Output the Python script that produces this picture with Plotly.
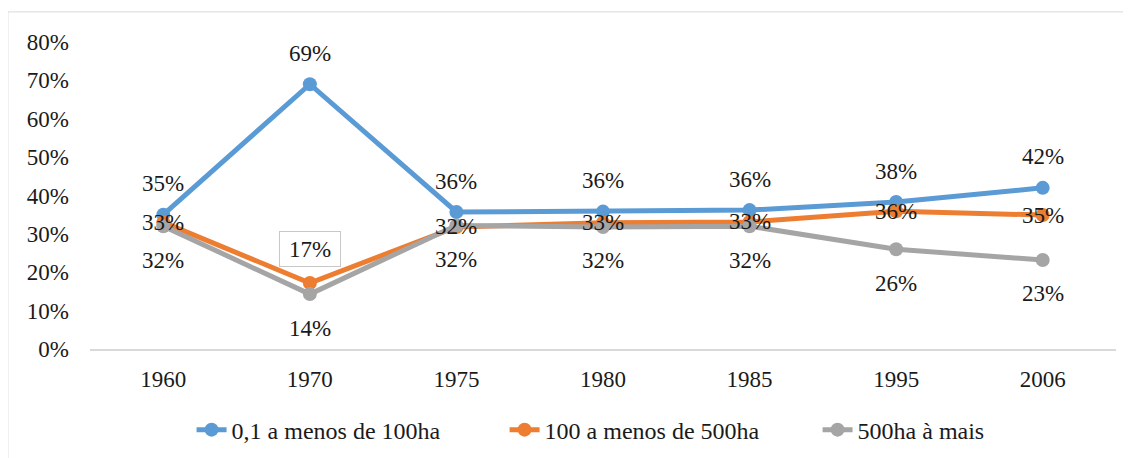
"""Distribuição dos estabelecimentos por grupo de área, 1960-2006."""

import plotly.graph_objects as go

years = ["1960", "1970", "1975", "1980", "1985", "1995", "2006"]
small = [0.35, 0.69, 0.357, 0.358, 0.362, 0.383, 0.42]
medium = [0.33, 0.172, 0.318, 0.329, 0.331, 0.359, 0.349]
large = [0.32, 0.143, 0.322, 0.318, 0.32, 0.26, 0.232]

small_labels = ["35%", "69%", "36%", "36%", "36%", "38%", "42%"]
medium_labels = ["33%", "17%", "32%", "33%", "33%", "36%", "35%"]
large_labels = ["32%", "14%", "32%", "32%", "32%", "26%", "23%"]

series = [
    ("0,1 a menos de 100ha", small, small_labels, "#5B9BD5", -31),
    ("100 a menos de 500ha", medium, medium_labels, "#ED7D31", 0),
    ("500ha à mais", large, large_labels, "#A5A5A5", 34),
]

FONT = "Liberation Serif"

fig = go.Figure()
annotations = []

for name, values, labels, color, shift in series:
    fig.add_trace(
        go.Scatter(
            x=years,
            y=values,
            mode="lines+markers",
            name=name,
            line={"color": color, "width": 5},
            marker={"color": color, "size": 14},
        )
    )
    for i, (value, label) in enumerate(zip(values, labels)):
        # o rótulo de 1970 da série intermediária fica numa caixa acima do ponto
        boxed = color == "#ED7D31" and i == 1
        ann = dict(
            x=i,
            y=value,
            text=label,
            showarrow=False,
            yshift=34 if boxed else -shift,
            font={"family": FONT, "size": 23, "color": "#1a1a1a"},
        )
        if boxed:
            ann.update(
                bordercolor="#c8c8c8", borderwidth=1, borderpad=4,
                bgcolor="white", width=52, height=26,
            )
        annotations.append(ann)

fig.update_layout(
    width=1123,
    height=450,
    plot_bgcolor="white",
    paper_bgcolor="white",
    margin={"l": 82, "r": 15, "t": 34, "b": 109, "autoexpand": False},
    font={"family": FONT, "size": 23, "color": "#1a1a1a"},
    annotations=annotations,
    showlegend=True,
    legend={
        "orientation": "h",
        "x": 0.099,
        "xanchor": "left",
        "y": -0.264,
        "yanchor": "middle",
        "font": {"family": FONT, "size": 24},
        "entrywidth": 268,
        "entrywidthmode": "pixels",
    },
    shapes=[
        dict(
            type="rect",
            xref="paper",
            yref="paper",
            x0=-0.08,
            x1=1.1,
            y0=-0.5,
            y1=1.098,
            line={"color": "#d9d9d9", "width": 1},
        )
    ],
)
fig.update_xaxes(
    type="category",
    range=[-0.5, 6.5],
    showgrid=False,
    showline=True,
    linecolor="#d9d9d9",
    linewidth=2,
    ticks="",
    ticklabelstandoff=8,
)
fig.update_yaxes(
    range=[0, 0.8],
    dtick=0.1,
    tickformat=".0%",
    showgrid=False,
    zeroline=False,
    showline=False,
    ticks="",
    ticklabelstandoff=20,
)

fig.write_html("out.html")
